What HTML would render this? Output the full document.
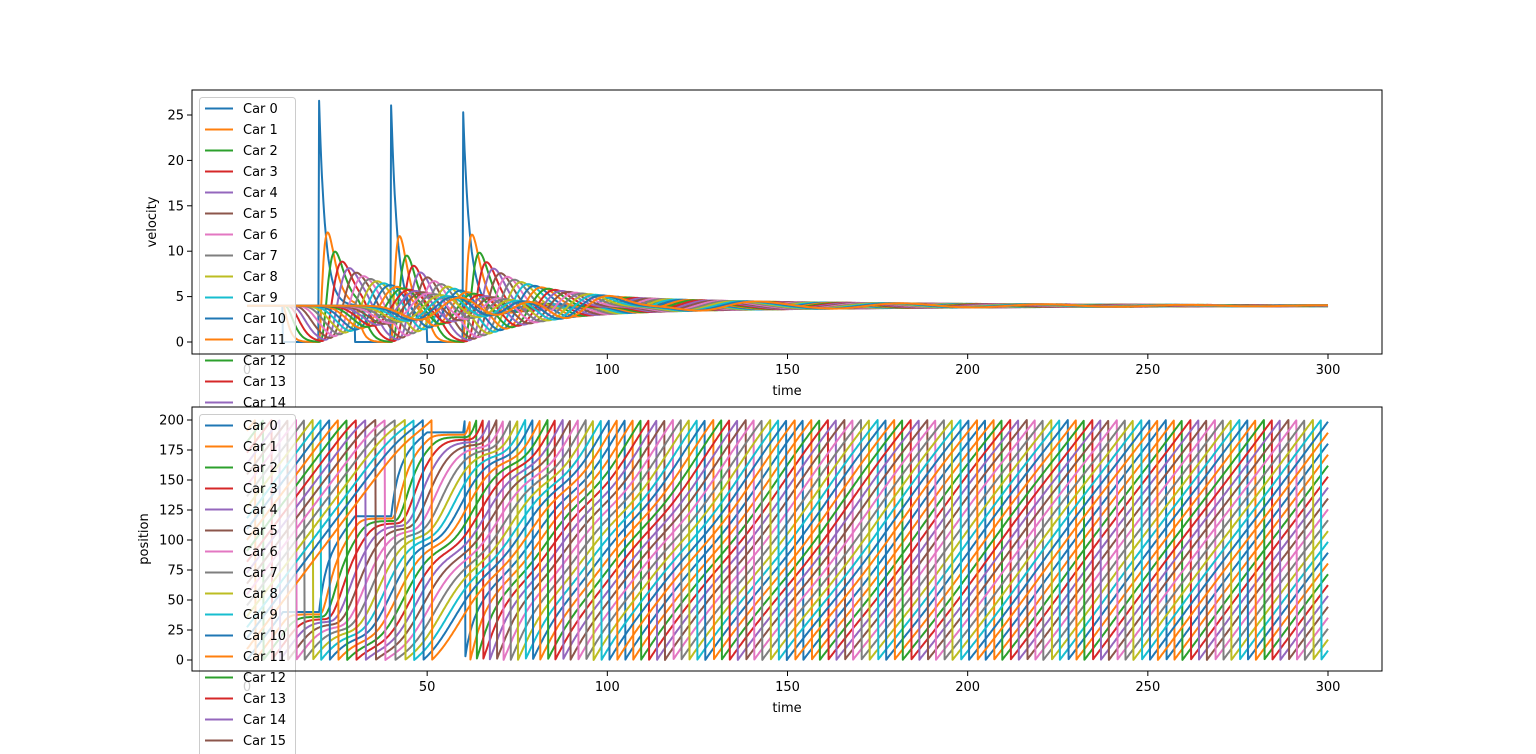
<!DOCTYPE html>
<html><head><meta charset="utf-8"><style>
html,body{margin:0;padding:0;background:#fff;width:1536px;height:754px;overflow:hidden;}
svg{display:block;font-family:"DejaVu Sans","Liberation Sans",sans-serif;}
</style></head><body>
<svg id="chart" width="1536" height="754" viewBox="0 0 1536 754" xmlns="http://www.w3.org/2000/svg"></svg>
<script>
// ---- data / model parameters ----
const numCars = 22;
const ringLength = 200;
const cruiseSpeed = 4;
const minGap = 2;
const followerResponse = 2.5;
const stopStarts = [10, 30, 50];
const stopEnds = [20, 40, 60];
const tEnd = 300;
const xTicks = [0, 50, 100, 150, 200, 250, 300];
const velTicks = [0, 5, 10, 15, 20, 25];
const posTicks = [0, 25, 50, 75, 100, 125, 150, 175, 200];
const colors = ["#1f77b4","#ff7f0e","#2ca02c","#d62728","#9467bd","#8c564b","#e377c2","#7f7f7f","#bcbd22","#17becf"];

// ---- simulation (follow-the-leader on a ring, car 0 forced to stop) ----
const spacing = ringLength / numCars;
const gain = cruiseSpeed / (spacing - minGap);
const dt = 0.02, sampleEvery = 10;
let x = [], cur = [], times = [], vel = [], pos = [];
for (let i = 0; i < numCars; i++) { x.push(-i * spacing); cur.push(cruiseSpeed); vel.push([]); pos.push([]); }
function stopped(t){ for (let k=0;k<stopStarts.length;k++) if (t>=stopStarts[k] && t<stopEnds[k]) return true; return false; }
function step(t){
  const target = [];
  for (let i = 0; i < numCars; i++) {
    const lead = i === 0 ? x[numCars-1] + ringLength : x[i-1];
    target.push(Math.max(0, gain * (lead - x[i] - minGap)));
  }
  for (let i = 0; i < numCars; i++) {
    if (i === 0) {
      if (t < stopStarts[0]) cur[0] = cruiseSpeed;
      else if (stopped(t)) cur[0] = 0;
      else cur[0] = target[0];
    } else {
      cur[i] += followerResponse * (target[i] - cur[i]) * dt;
      if (cur[i] < 0) cur[i] = 0;
    }
  }
}
const steps = Math.round(tEnd / dt);
for (let n = 0; n <= steps; n++) {
  const t = n * dt;
  step(t);
  if (n % sampleEvery === 0) {
    times.push(t);
    for (let i = 0; i < numCars; i++) { vel[i].push(cur[i]); pos[i].push(((x[i] % ringLength) + ringLength) % ringLength); }
  }
  for (let i = 0; i < numCars; i++) x[i] += cur[i] * dt;
}

// ---- drawing ----
const NS = "http://www.w3.org/2000/svg";
const svg = document.getElementById("chart");
function el(tag, attrs, parent){ const e=document.createElementNS(NS,tag); for(const k in attrs) e.setAttribute(k,attrs[k]); (parent||svg).appendChild(e); return e; }
const L = 192, R = 1382, H = 754;
const xScale = t => 247 + t * (1328 - 247) / 300;

function panel(top, bottom, yScale, series, yTicks, yLabel, labelX, name){
  const g = el("g", {});
  
  
  el("rect", {x:L, y:top, width:R-L, height:bottom-top, fill:"#fff"}, g);
  const clipId = name + "-clip";
  const cp = el("clipPath", {id:clipId}, g);
  el("rect", {x:L, y:top, width:R-L, height:bottom-top}, cp);
  const lines = el("g", {"clip-path":"url(#"+clipId+")"}, g);
  for (let i = 0; i < numCars; i++) {
    let d = "";
    for (let k = 0; k < times.length; k++) d += (k?"L":"M") + xScale(times[k]).toFixed(1) + "," + yScale(series[i][k]).toFixed(1);
    const p = el("path", {d:d, fill:"none", stroke:colors[i%10], "stroke-width":2, "stroke-linejoin":"round"}, lines);
    
    
  }
  xTicks.forEach(t => {
    const px = xScale(t);
    el("line", {x1:px, y1:bottom, x2:px, y2:bottom+5, stroke:"#000", "stroke-width":1}, g);
    const tx = el("text", {x:px, y:bottom+20, "text-anchor":"middle", "font-size":13, fill:"#000"}, g);
    tx.textContent = t;
    
    
  });
  yTicks.forEach(t => {
    const py = yScale(t);
    el("line", {x1:L-5, y1:py, x2:L, y2:py, stroke:"#000", "stroke-width":1}, g);
    const tx = el("text", {x:L-8, y:py+4.5, "text-anchor":"end", "font-size":13, fill:"#000"}, g);
    tx.textContent = t;
    
    
  });
  const xl = el("text", {x:(L+R)/2, y:bottom+41, "text-anchor":"middle", "font-size":13}, g);
  xl.textContent = "time";
  
  
  const yl = el("text", {x:labelX, y:(top+bottom)/2, "text-anchor":"middle", "font-size":13, transform:"rotate(-90 "+labelX+" "+(top+bottom)/2+")"}, g);
  yl.textContent = yLabel;
  
  
  const lg = el("g", {}, g);
  
  
  const boxH = Math.min(numCars*21+8, H + 5 - (top+7.5));
  el("rect", {x:199.5, y:top+7.5, width:96, height:boxH, rx:3, fill:"#fff", "fill-opacity":0.8, stroke:"#ccc", "stroke-width":1}, lg);
  for (let i = 0; i < numCars; i++) {
    const cy = top + 18.5 + i * 21;
    if (cy + 8 > H) break;
    const en = el("g", {}, lg);
    
    
    el("line", {x1:205, y1:cy, x2:233, y2:cy, stroke:colors[i%10], "stroke-width":2}, en);
    const t = el("text", {x:243, y:cy+4.5, "font-size":13}, en);
    t.textContent = "Car " + i;
  }
  el("rect", {x:L, y:top, width:R-L, height:bottom-top, fill:"none", stroke:"#000", "stroke-width":1}, g);
}
panel(90, 354, v => 342 - v * (342 - 115) / 25, vel, velTicks, "velocity", 156, "velocity");
panel(407, 671, p => 660 - p * (660 - 420) / 200, pos, posTicks, "position", 148, "position");
</script>
</body></html>
